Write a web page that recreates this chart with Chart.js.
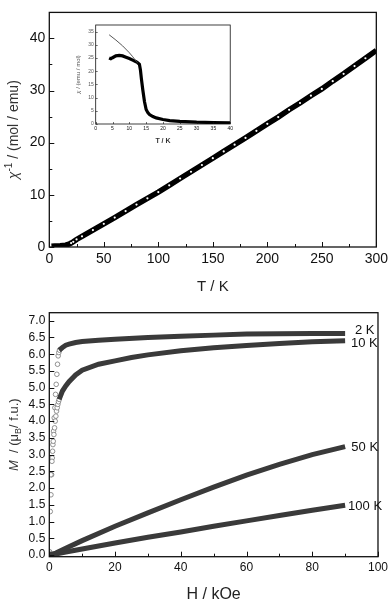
<!DOCTYPE html>
<html><head><meta charset="utf-8">
<script src="https://cdn.jsdelivr.net/npm/chart.js@4.4.1/dist/chart.umd.min.js"></script>
<style>
html,body{margin:0;padding:0;background:#fff;width:392px;height:602px;overflow:hidden}
canvas{position:absolute;display:block}
#top{left:0;top:0}
#inset{left:70px;top:20px}
#bot{left:0;top:300px}
</style></head><body>
<canvas id="top" width="392" height="300"></canvas>
<canvas id="inset" width="165" height="128"></canvas>
<canvas id="bot" width="392" height="302"></canvas>
<script>
// ---------- Top chart: inverse susceptibility vs T ----------
const invT   = [2, 5, 10, 15, 18, 20, 22, 25, 30, 40, 50, 60, 70, 80, 90, 100, 110, 120, 130, 140, 150, 160, 170, 180, 190, 200, 210, 220, 230, 240, 250, 260, 270, 280, 290, 300];
const invChi = [0.1, 0.15, 0.2, 0.3, 0.5, 0.7, 0.95, 1.4, 2.0, 3.2, 4.4, 5.6, 6.85, 8.1, 9.3, 10.5, 11.8, 13.1, 14.4, 15.7, 17.0, 18.3, 19.6, 20.9, 22.25, 23.6, 24.9, 26.3, 27.6, 29.0, 30.3, 31.8, 33.2, 34.7, 36.2, 37.7];
const topXTicks = [0, 50, 100, 150, 200, 250, 300];
const topYTicks = [0, 10, 20, 30, 40];

// ---------- Inset: chi vs T ----------
const insT     = [4, 4.5, 5, 6, 7, 8, 9, 10, 11, 12, 12.5, 13, 13.3, 13.6, 14, 14.5, 15, 15.5, 16, 17, 18, 20, 22, 25, 30, 35, 40];
const insChi   = [25, 24.7, 25.1, 25.8, 26, 25.8, 25.3, 24.8, 24.2, 23.6, 23.2, 22.6, 20.5, 17, 13, 8.5, 5.5, 4.3, 3.6, 2.8, 2.3, 1.7, 1.3, 1.0, 0.7, 0.55, 0.45];
const fitT     = [4, 6, 8, 10, 11, 12, 12.5];
const fitChi   = [33.8, 31.8, 29.6, 27.0, 25.5, 23.8, 23.2];
const insXTicks = [0, 5, 10, 15, 20, 25, 30, 35, 40];
const insYTicks = [0, 5, 10, 15, 20, 25, 30, 35];

// ---------- Bottom chart: M vs H ----------
const h2lo  = [0.1, 0.3, 0.5, 0.7, 0.9, 1.1, 1.3, 1.5, 1.7, 1.9, 2.1, 2.3, 2.5, 2.7, 2.9, 3.1];
const m2lo  = [0.1, 1.3, 1.8, 2.4, 2.9, 3.3, 3.7, 4.1, 4.4, 4.8, 5.1, 5.4, 5.7, 5.95, 6.05, 6.12];
const h2    = [3, 4, 5, 6, 8, 10, 15, 20, 30, 40, 50, 60, 70, 80, 90];
const m2    = [6.12, 6.2, 6.27, 6.3, 6.35, 6.38, 6.42, 6.45, 6.5, 6.54, 6.57, 6.6, 6.61, 6.62, 6.62];
const h10lo = [0.2, 0.5, 0.8, 1.0, 1.2, 1.4, 1.6, 1.8, 2.0, 2.2, 2.4, 2.6, 2.8, 3.0];
const m10lo = [0.05, 2.4, 2.8, 3.1, 3.4, 3.6, 3.8, 4.0, 4.15, 4.3, 4.4, 4.5, 4.58, 4.65];
const h10   = [3, 4, 5, 6, 8, 10, 15, 20, 25, 30, 40, 50, 60, 70, 80, 90];
const m10   = [4.65, 4.9, 5.05, 5.18, 5.38, 5.52, 5.7, 5.8, 5.9, 5.98, 6.1, 6.19, 6.26, 6.32, 6.37, 6.4];
const h50   = [0, 2, 5, 10, 20, 30, 40, 50, 60, 70, 80, 90];
const m50   = [0, 0.06, 0.2, 0.43, 0.86, 1.26, 1.65, 2.03, 2.39, 2.71, 3.0, 3.24];
const h100  = [0, 2, 5, 10, 20, 30, 40, 50, 60, 70, 80, 90];
const m100  = [0, 0.03, 0.09, 0.18, 0.36, 0.53, 0.69, 0.86, 1.02, 1.18, 1.34, 1.49];
const gapH  = [60.8, 62.6];
const gapM2 = [6.6, 6.6], gapM10 = [6.27, 6.28], gapM50 = [2.35, 2.42], gapM100 = [1.01, 1.03];
const curveNames = ['2 K', '10 K', '50 K', '100 K'];
const nameH = [93, 91.8, 91.9, 90.9];
const nameM = [6.70, 6.31, 3.22, 1.46];
const botXTicks = [0, 20, 40, 60, 80, 100];
const botYTicks = [0, 0.5, 1, 1.5, 2, 2.5, 3, 3.5, 4, 4.5, 5, 5.5, 6, 6.5, 7];

const FONT = "'Liberation Sans', Arial, sans-serif";
const pts = (xs, ys) => xs.map((x, i) => ({x, y: ys[i]}));
const setTicks = arr => scale => { scale.ticks = arr.map(v => ({value: v})); };

// inward tick marks + box frame
const framePlugin = {
  id: 'frame',
  afterDraw(chart, args, o) {
    const {ctx, chartArea: a, scales: {x, y}} = chart;
    ctx.save();
    ctx.strokeStyle = '#111';
    ctx.lineWidth = o.tickWidth;
    ctx.beginPath();
    const marks = (s, minor, major, horiz) => {
      const n0 = Math.ceil(s.min / minor - 1e-9), n1 = Math.floor(s.max / minor + 1e-9);
      for (let n = n0; n <= n1; n++) {
        const v = n * minor;
        const isMaj = Math.abs(v / major - Math.round(v / major)) < 1e-6;
        const len = isMaj ? o.major : o.minor;
        const p = Math.round(s.getPixelForValue(v)) + 0.5;
        if (horiz) { ctx.moveTo(p, a.bottom); ctx.lineTo(p, a.bottom - len); }
        else { ctx.moveTo(a.left, p); ctx.lineTo(a.left + len, p); }
      }
    };
    marks(x, o.xMinor, o.xMajor, true);
    marks(y, o.yMinor, o.yMajor, false);
    ctx.stroke();
    ctx.lineWidth = o.border;
    ctx.strokeRect(a.left, a.top, a.right - a.left, a.bottom - a.top);
    ctx.restore();
  }
};

// rich y-axis title (italic symbol, super/subscripts)
const yTitlePlugin = {
  id: 'ytitle',
  afterDraw(chart, args, o) {
    if (!o.parts) return;
    const {ctx, chartArea: a} = chart;
    ctx.save();
    ctx.fillStyle = o.color;
    ctx.textBaseline = 'alphabetic';
    const fontFor = p => (p.italic ? 'italic ' : '') + Math.round(o.size * (p.sup || p.sub ? 0.68 : 1)) + 'px ' + FONT;
    let total = 0;
    o.parts.forEach(p => { ctx.font = fontFor(p); total += ctx.measureText(p.t).width; });
    ctx.translate(o.x, (a.top + a.bottom) / 2);
    ctx.rotate(-Math.PI / 2);
    let cx = -total / 2;
    const base = o.size * 0.36;
    o.parts.forEach(p => {
      ctx.font = fontFor(p);
      const dy = p.sup ? -o.size * 0.42 : (p.sub ? o.size * 0.22 : 0);
      ctx.fillText(p.t, cx, base + dy);
      cx += ctx.measureText(p.t).width;
    });
    ctx.restore();
  }
};

// curve name labels
const namePlugin = {
  id: 'names',
  afterDatasetsDraw(chart, args, o) {
    if (!o.names) return;
    const {ctx, scales: {x, y}} = chart;
    ctx.save();
    ctx.font = o.size + 'px ' + FONT;
    ctx.fillStyle = '#111';
    ctx.textAlign = 'left';
    ctx.textBaseline = 'middle';
    o.names.forEach((t, i) => ctx.fillText(t, x.getPixelForValue(o.hs[i]), y.getPixelForValue(o.ms[i])));
    ctx.restore();
  }
};

const whiteArea = {
  id: 'whiteArea',
  beforeDraw(chart, args, o) {
    if (!o.on) return;
    const {ctx, chartArea: a} = chart;
    ctx.save(); ctx.fillStyle = '#fff';
    ctx.fillRect(a.left, a.top, a.right - a.left, a.bottom - a.top);
    ctx.restore();
  }
};

Chart.register(framePlugin, yTitlePlugin, namePlugin, whiteArea);

function axisX(min, max, ticks, size, pad, height, title) {
  return {
    type: 'linear', min, max,
    grid: {display: false, drawTicks: false},
    border: {display: false},
    afterBuildTicks: setTicks(ticks),
    afterFit: s => { s.height = height; },
    ticks: {font: {family: FONT, size: size}, color: '#111', padding: pad, maxRotation: 0, autoSkip: false},
    title: title
  };
}
function axisY(min, max, ticks, size, pad, width, fmt, color) {
  return {
    type: 'linear', min, max,
    grid: {display: false, drawTicks: false},
    border: {display: false},
    afterBuildTicks: setTicks(ticks),
    afterFit: s => { s.width = width; },
    ticks: {font: {family: FONT, size: size}, color: color || '#111', padding: pad, autoSkip: false,
            callback: fmt || (v => String(v))}
  };
}

// ---- top chart ----
new Chart(document.getElementById('top'), {
  type: 'scatter',
  data: {datasets: [{
    data: pts(invT, invChi), showLine: true, borderColor: '#000', borderWidth: 5.5,
    pointRadius: c => (invT[c.dataIndex] >= 20 && invT[c.dataIndex] < 300 ? 1.1 : 0),
    pointBackgroundColor: '#fff', pointBorderWidth: 0
  }]},
  options: {
    responsive: false, animation: false, devicePixelRatio: 1,
    layout: {padding: {left: 0, right: 12, top: 3, bottom: 0}},
    plugins: {legend: {display: false}, tooltip: {enabled: false},
      frame: {tickWidth: 1, major: 5, minor: 3, border: 1.3, xMinor: 25, xMajor: 50, yMinor: 5, yMajor: 10},
      ytitle: {x: 13, size: 14, color: '#333', parts: [{t: 'χ', italic: true}, {t: '-1', sup: true}, {t: ' / (mol / emu)'}]}
    },
    scales: {
      x: axisX(0, 300, topXTicks, 14, 4, 53, {display: true, text: 'T / K', color: '#222', font: {family: FONT, size: 15}, padding: {top: 0, bottom: 4}}),
      y: axisY(-0.05, 45, topYTicks, 14, 4, 49.3)
    }
  }
});

// ---- inset ----
new Chart(document.getElementById('inset'), {
  type: 'scatter',
  data: {datasets: [
    {data: pts(fitT, fitChi), showLine: true, borderColor: '#444', borderWidth: 0.9, pointRadius: 0},
    {data: pts(insT, insChi), showLine: true, borderColor: '#000', borderWidth: 3.2, pointRadius: 0}
  ]},
  options: {
    responsive: false, animation: false, devicePixelRatio: 1,
    layout: {padding: {left: 0, right: 4.3, top: 5, bottom: 0}},
    plugins: {legend: {display: false}, tooltip: {enabled: false},
      whiteArea: {on: true},
      frame: {tickWidth: 0.6, major: 2, minor: 1, border: 0.8, xMinor: 5, xMajor: 5, yMinor: 5, yMajor: 5},
      ytitle: {x: 8, size: 5.5, color: '#555', parts: [{t: 'χ', italic: true}, {t: ' / (emu / mol)'}]}
    },
    scales: {
      x: axisX(0, 40, insXTicks, 5, 2, 24, {display: true, text: 'T / K', color: '#333', font: {family: FONT, size: 7, weight: 'bold'}, padding: {top: 0, bottom: 3}}),
      y: axisY(0, 37.5, insYTicks, 5, 2, 25.7, null, '#555')
    }
  }
});

// ---- bottom chart ----
const band = (xs, ys) => ({data: pts(xs, ys), showLine: true, borderColor: '#3a3a3a', borderWidth: 5, pointRadius: 0});
const open = (xs, ys) => ({data: pts(xs, ys), showLine: false, pointRadius: 2.3, pointBorderColor: '#777', pointBackgroundColor: '#fff', pointBorderWidth: 0.8});
const gaps = (ys) => ({data: pts(gapH, ys), showLine: false, pointRadius: 1.7, pointBorderWidth: 0, pointBackgroundColor: '#fff'});
new Chart(document.getElementById('bot'), {
  type: 'scatter',
  data: {datasets: [
    band(h50, m50), band(h100, m100), band(h10, m10), band(h2, m2),
    open(h10lo, m10lo), open(h2lo, m2lo),
    gaps(gapM2), gaps(gapM10), gaps(gapM50), gaps(gapM100)
  ]},
  options: {
    responsive: false, animation: false, devicePixelRatio: 1,
    layout: {padding: {left: 0, right: 12, top: 12.7, bottom: 0}},
    plugins: {legend: {display: false}, tooltip: {enabled: false},
      frame: {tickWidth: 1, major: 5, minor: 3, border: 1.3, xMinor: 10, xMajor: 20, yMinor: 0.5, yMajor: 0.5},
      ytitle: {x: 13, size: 13, color: '#333', parts: [{t: 'M', italic: true}, {t: '  / (μ'}, {t: 'B', sub: true}, {t: '/ f.u.)'}]},
      names: {names: curveNames, hs: nameH, ms: nameM, size: 13}
    },
    scales: {
      x: axisX(0, 100, botXTicks, 12, 4, 45.3, {display: true, text: 'H / kOe', color: '#222', font: {family: FONT, size: 16, lineHeight: 0.875}, padding: {top: 0, bottom: 0}}),
      y: axisY(-0.05, 7.24, botYTicks, 12, 4, 49.3, v => v.toFixed(1))
    }
  }
});
</script>
</body></html>
